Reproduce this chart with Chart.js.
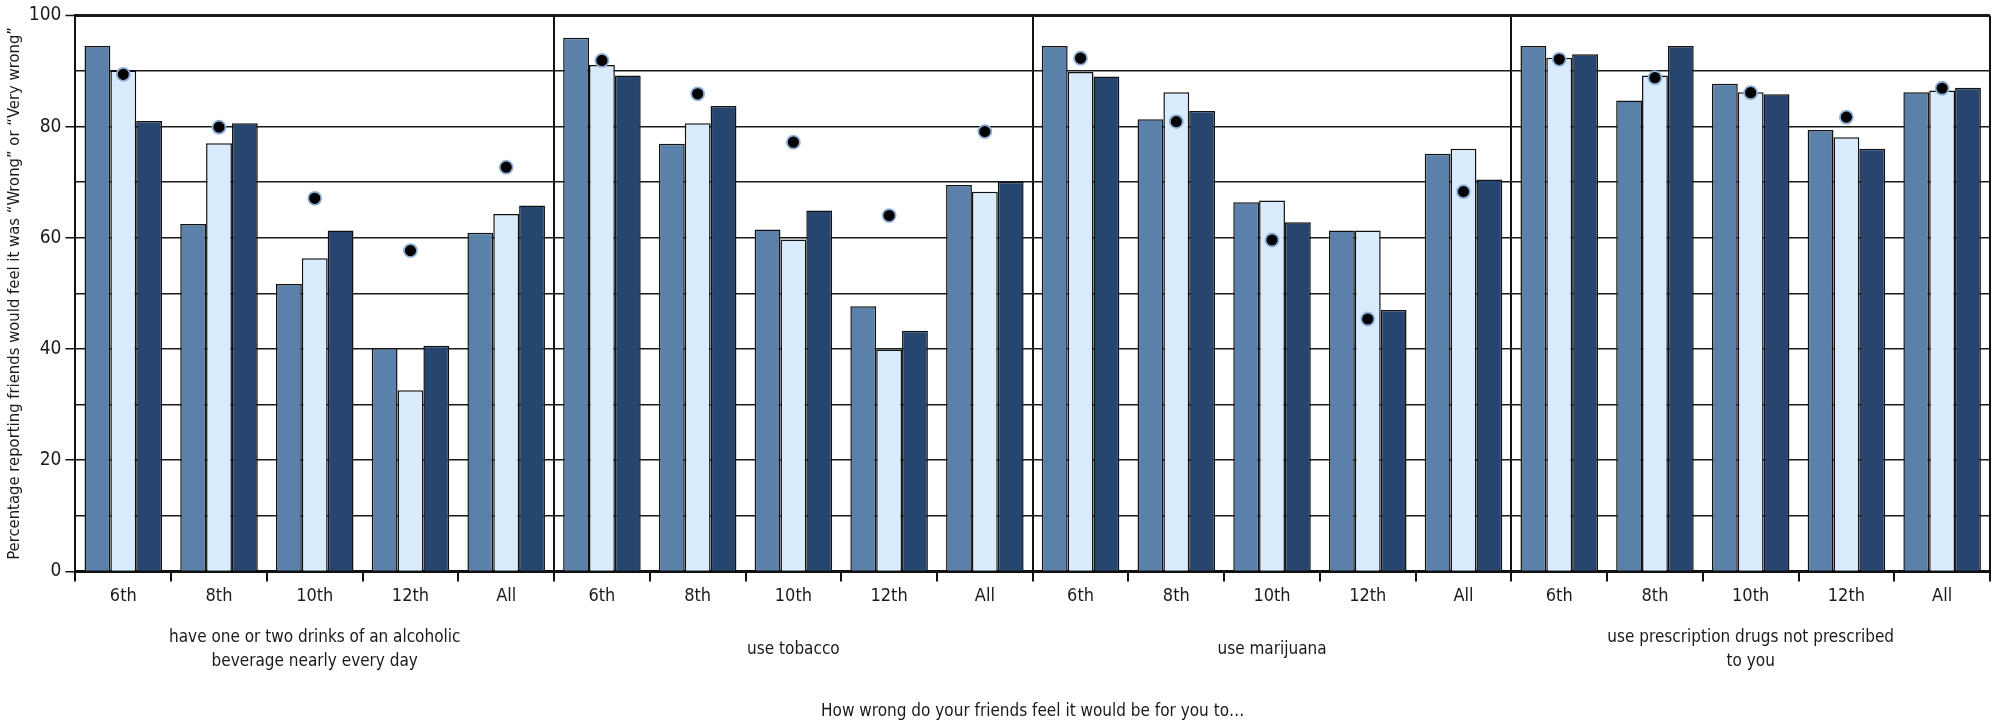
<!DOCTYPE html>
<html>
<head>
<meta charset="utf-8">
<script src="https://cdn.jsdelivr.net/npm/chart.js@4/dist/chart.umd.min.js"></script>
<style>
  html, body { margin: 0; padding: 0; background: #fff; }
  #wrap { width: 1999px; height: 726px; }
</style>
</head>
<body>
<div id="wrap"><canvas id="chart"></canvas></div>
<script>
// --- datos del gráfico ---
const grades = ["6th", "8th", "10th", "12th", "All"];
const groupLabels = [
  ["have one or two drinks of an alcoholic", "beverage nearly every day"],
  "use tobacco",
  "use marijuana",
  ["use prescription drugs not prescribed", "to you"]
];
const yTicks = [0, 20, 40, 60, 80, 100];

// 3 series de barras + puntos, en orden: alcohol, tabaco, marihuana, recetados
const seriesA = [94.5, 62.5, 51.7, 40.2, 60.9,  96.0, 76.9, 61.5, 47.7, 69.5,  94.5, 81.3, 66.4, 61.3, 75.1,  94.5, 84.7, 87.7, 79.4, 86.2];
const seriesB = [90.1, 77.0, 56.3, 32.6, 64.3,  91.1, 80.6, 59.7, 39.9, 68.3,  89.8, 86.2, 66.7, 61.3, 76.0,  92.4, 89.2, 86.2, 78.1, 86.5];
const seriesC = [81.0, 80.6, 61.3, 40.6, 65.8,  89.2, 83.7, 64.9, 43.3, 70.1,  89.0, 82.8, 62.8, 47.0, 70.5,  93.0, 94.5, 85.8, 76.0, 87.0];
const dots    = [89.4, 79.9, 67.1, 57.7, 72.7,  91.9, 85.9, 77.2, 64.0, 79.1,  92.3, 80.9, 59.6, 45.4, 68.3,  92.1, 88.8, 86.1, 81.7, 86.9];

const labels = [];
groupLabels.forEach(() => grades.forEach((g) => labels.push(g)));

const FONT = "'Liberation Sans Narrow', 'DejaVu Sans Condensed', sans-serif";
const TEXT = "#1a1a1a";

function barSet(data, color) {
  return {
    type: "bar",
    data: data,
    backgroundColor: color,
    borderColor: "#111",
    borderWidth: 1.5,
    borderSkipped: "start",
    categoryPercentage: 0.81,
    barPercentage: 1.0,
    order: 2
  };
}

new Chart(document.getElementById("chart"), {
  type: "bar",
  data: {
    labels: labels,
    datasets: [
      {
        type: "line",
        data: dots,
        showLine: false,
        pointRadius: 6.5,
        pointBorderWidth: 1.8,
        pointBackgroundColor: "#000",
        pointBorderColor: "#8fb0d6",
        order: 0
      },
      barSet(seriesA, "#5b80a9"),
      barSet(seriesB, "#d9ecfd"),
      barSet(seriesC, "#26456f")
    ]
  },
  options: {
    responsive: true,
    maintainAspectRatio: false,
    animation: false,
    layout: { padding: { top: 15, right: 9, left: 5, bottom: 4 } },
    plugins: {
      legend: { display: false },
      tooltip: { enabled: false }
    },
    scales: {
      x: {
        type: "category",
        position: "bottom",
        offset: true,
        grid: {
          offset: true,
          drawOnChartArea: true,
          color: (ctx) => (ctx.index === undefined || ctx.index % 5 === 0) ? "#111" : "rgba(0,0,0,0)",
          lineWidth: 2,
          tickColor: "#111",
          tickLength: 10,
          tickWidth: 2
        },
        border: { display: true, color: "#111", width: 3 },
        ticks: {
          color: TEXT,
          font: { family: FONT, size: 18 },
          padding: 4,
          maxRotation: 0,
          autoSkip: false
        }
      },
      x2: {
        type: "category",
        position: "bottom",
        labels: groupLabels,
        offset: true,
        grid: { display: false, drawTicks: false },
        border: { display: false },
        ticks: {
          color: TEXT,
          font: { family: FONT, size: 17, lineHeight: 1.4 },
          padding: 27,
          crossAlign: "center",
          maxRotation: 0,
          autoSkip: false
        },
        title: {
          display: true,
          text: "How wrong do your friends feel it would be for you to…",
          color: TEXT,
          font: { family: FONT, size: 17 },
          padding: { top: -11, bottom: 0 }
        }
      },
      y: {
        min: 0,
        max: 100,
        afterBuildTicks: (axis) => {
          // lineas cada 10, etiquetas cada 20
          const t = [];
          for (let v = 0; v <= 100; v += 10) t.push({ value: v });
          axis.ticks = t;
        },
        grid: {
          color: "#1a1a1a",
          lineWidth: (ctx) => (ctx.tick && ctx.tick.value === 100 ? 3 : 1.5),
          tickColor: (ctx) => (ctx.tick && yTicks.includes(ctx.tick.value) ? "#111" : "rgba(0,0,0,0)"),
          tickLength: 10,
          tickWidth: 1.5
        },
        border: { display: true, color: "#111", width: 2 },
        ticks: {
          color: TEXT,
          font: { family: FONT, size: 19 },
          padding: 4,
          callback: (v) => (yTicks.includes(v) ? v : "")
        },
        title: {
          display: true,
          text: "Percentage reporting friends would feel it was “Wrong” or “Very wrong”",
          color: TEXT,
          font: { family: FONT, size: 16.5 },
          padding: { top: 0, bottom: 0 }
        }
      }
    }
  }
});
</script>
</body>
</html>
